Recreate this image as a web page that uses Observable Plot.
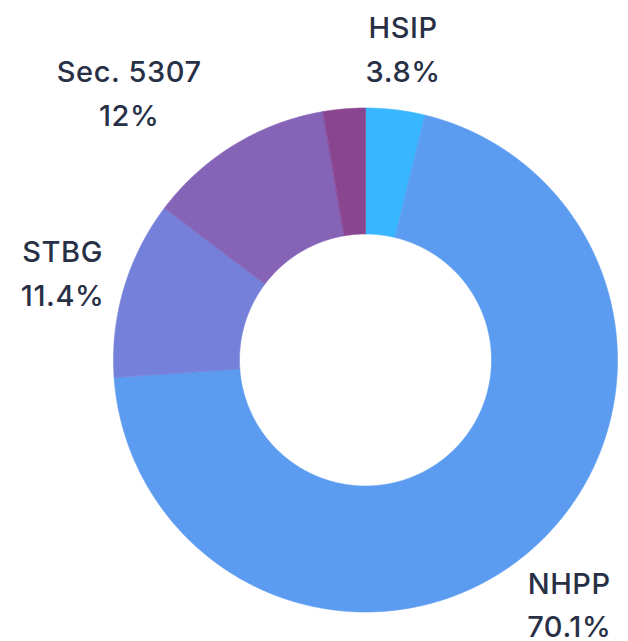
<!DOCTYPE html>
<html>
<head>
<meta charset="utf-8">
<script src="https://cdn.jsdelivr.net/npm/d3@7"></script>
<script src="https://cdn.jsdelivr.net/npm/@observablehq/plot@0.6"></script>
<style>
  html, body { margin: 0; padding: 0; background: #fff; }
  #chart { width: 628px; height: 641px; }
</style>
</head>
<body>
<div id="chart"></div>
<script>
// Data
const categories = ["HSIP", "NHPP", "STBG", "Sec. 5307", "Other"];
const values = [3.8, 70.1, 11.4, 12, 2.7];
const colors = ["#38b6ff", "#5c9cf0", "#7480d9", "#8563b7", "#8a4590"];

// Geometry (pixel units, 1 data unit = 1 px)
const outerR = 252, innerR = 126, labelR = 316;
const cx = 365, cy = 359.5, W = 628, H = 641;

const arcs = d3.pie().sort(null).value(d => d)(values);

const pts = [];
arcs.forEach((a, i) => {
  const n = Math.max(2, Math.ceil((a.endAngle - a.startAngle) / 0.004));
  for (let k = 0; k <= n; k++) {
    const t = a.startAngle + (a.endAngle - a.startAngle) * k / n;
    pts.push({key: categories[i], x: outerR * Math.sin(t), y: outerR * Math.cos(t)});
  }
  for (let k = n; k >= 0; k--) {
    const t = a.startAngle + (a.endAngle - a.startAngle) * k / n;
    pts.push({key: categories[i], x: innerR * Math.sin(t), y: innerR * Math.cos(t)});
  }
});

const labels = arcs.map((a, i) => {
  const m = (a.startAngle + a.endAngle) / 2;
  return {key: categories[i], value: values[i], x: labelR * Math.sin(m), y: labelR * Math.cos(m),
          text: `${categories[i]}\n${values[i]}%`};
}).filter(d => d.value >= 3);

const font = {fontFamily: "Inter, Lato, sans-serif", fontSize: 29, fontWeight: 500, fill: "#283046",
              lineHeight: 1.5, lineAnchor: "middle", textAnchor: "middle"};

const chart = Plot.plot({
  width: W, height: H, margin: 0,
  style: {letterSpacing: "0.6px"},
  x: {domain: [-cx, W - cx], axis: null},
  y: {domain: [cy - H, cy], axis: null},
  color: {domain: categories, range: colors},
  marks: [
    Plot.line(pts, {x: "x", y: "y", z: "key", fill: "key", stroke: "key", strokeWidth: 0.6, curve: "linear-closed"}),
    Plot.text(labels.filter(d => d.key !== "Sec. 5307"), {x: "x", y: "y", text: "text", ...font}),
    Plot.text(labels.filter(d => d.key === "Sec. 5307"), {x: "x", y: "y", text: "text", dx: -72, ...font})
  ]
});
document.getElementById("chart").appendChild(chart);
</script>
</body>
</html>
